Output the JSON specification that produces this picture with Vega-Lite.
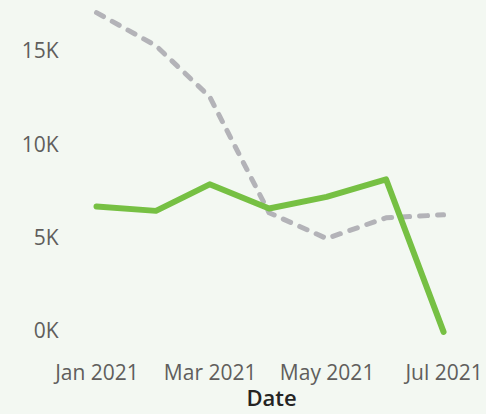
{
  "$schema": "https://vega.github.io/schema/vega-lite/v6.json",
  "width": 418,
  "height": 340,
  "autosize": {"type": "none"},
  "padding": {"left": 62, "top": 5, "right": 6, "bottom": 69},
  "background": "#f3f8f2",
  "config": {"view": {"stroke": null}},
  "data": {
    "values": [
      {"date": "2021-01-01T00:00:00", "series": "Current", "value": 6720},
      {"date": "2021-02-01T00:00:00", "series": "Current", "value": 6480},
      {"date": "2021-03-01T00:00:00", "series": "Current", "value": 7900},
      {"date": "2021-04-01T00:00:00", "series": "Current", "value": 6610},
      {"date": "2021-05-01T00:00:00", "series": "Current", "value": 7230},
      {"date": "2021-06-01T00:00:00", "series": "Current", "value": 8170},
      {"date": "2021-07-01T00:00:00", "series": "Current", "value": 0},
      {"date": "2021-01-01T00:00:00", "series": "Prior", "value": 17090},
      {"date": "2021-02-01T00:00:00", "series": "Prior", "value": 15320},
      {"date": "2021-03-01T00:00:00", "series": "Prior", "value": 12590},
      {"date": "2021-04-01T00:00:00", "series": "Prior", "value": 6380},
      {"date": "2021-05-01T00:00:00", "series": "Prior", "value": 5000},
      {"date": "2021-06-01T00:00:00", "series": "Prior", "value": 6110},
      {"date": "2021-07-01T00:00:00", "series": "Prior", "value": 6270}
    ]
  },
  "encoding": {
    "x": {
      "field": "date",
      "type": "temporal",
      "title": "Date",
      "scale": {"domain": [{"year": 2020, "month": 12, "date": 14}, {"year": 2021, "month": 7, "date": 20}], "nice": false},
      "axis": {
        "format": "%b %Y",
        "tickCount": {"interval": "month", "step": 2},
        "grid": false,
        "ticks": false,
        "domain": false,
        "labelFlush": false,
        "labelOverlap": false,
        "labelFont": "Open Sans",
        "labelFontSize": 21,
        "labelColor": "#605e5c",
        "labelPadding": 17,
        "titleFont": "Open Sans",
        "titleFontSize": 22,
        "titleFontWeight": 600,
        "titleColor": "#252423",
        "titlePadding": 5
      }
    },
    "y": {
      "field": "value",
      "type": "quantitative",
      "title": null,
      "scale": {"domain": [-700, 17500], "nice": false, "zero": false},
      "axis": {
        "values": [0, 5000, 10000, 15000],
        "labelExpr": "datum.value / 1000 + 'K'",
        "grid": false,
        "ticks": false,
        "domain": false,
        "labelFont": "Open Sans",
        "labelFontSize": 21,
        "labelColor": "#605e5c",
        "labelPadding": 4
      }
    }
  },
  "layer": [
    {
      "transform": [{"filter": "datum.series === 'Prior'"}],
      "mark": {"type": "line", "color": "#b3b3b8", "strokeWidth": 5, "strokeDash": [8, 10], "strokeCap": "round", "strokeJoin": "round"}
    },
    {
      "transform": [{"filter": "datum.series === 'Current'"}],
      "mark": {"type": "line", "color": "#76c043", "strokeWidth": 6, "strokeCap": "round", "strokeJoin": "round"}
    }
  ]
}
